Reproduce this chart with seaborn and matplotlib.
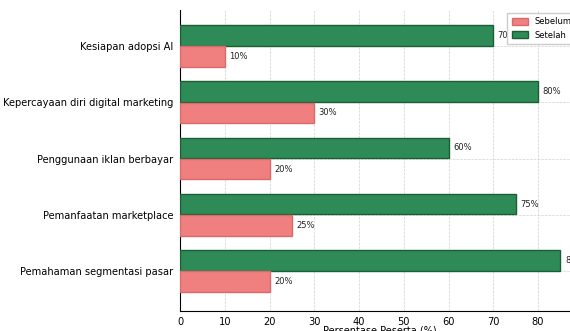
import matplotlib
matplotlib.use("Agg")
import matplotlib.pyplot as plt
import seaborn as sns
import pandas as pd

# data
categories = [
    "Kesiapan adopsi AI",
    "Kepercayaan diri digital marketing",
    "Penggunaan iklan berbayar",
    "Pemanfaatan marketplace",
    "Pemahaman segmentasi pasar",
]
sebelum = [10, 30, 20, 25, 20]
setelah = [70, 80, 60, 75, 85]

df = pd.DataFrame({
    "Aspek": categories * 2,
    "Nilai": setelah + sebelum,
    "Status": ["Setelah"] * len(categories) + ["Sebelum"] * len(categories),
})

sns.set_style("white")
plt.rcParams["font.family"] = ["DejaVu Sans"]
plt.rcParams["text.color"] = "black"
plt.rcParams["xtick.color"] = "black"
plt.rcParams["ytick.color"] = "black"
plt.rcParams["axes.labelcolor"] = "black"

fig = plt.figure(figsize=(5.7, 3.31), dpi=100)
ax = fig.add_axes([0.3158, 0.0604, 0.7008, 0.9094])

palette = {"Setelah": "#2e8b57", "Sebelum": "#f08080"}
sns.barplot(data=df, y="Aspek", x="Nilai", hue="Status", hue_order=["Setelah", "Sebelum"],
            palette=palette, orient="h", width=0.75, gap=0.03, saturation=1, ax=ax, zorder=3)

# edge colours per series
for bar_container, edge in zip(ax.containers, ["#1b5e34", "#d96a6a"]):
    for p in bar_container:
        p.set_edgecolor(edge)
        p.set_linewidth(1.0)
    for p in bar_container:
        w = p.get_width()
        ax.text(w + 1.0, p.get_y() + p.get_height() / 2, f"{int(w)}%",
                va="center", ha="left", fontsize=6, color="#222222", zorder=4)

ax.set_xlim(0, max(setelah) * 1.05)
ax.set_ylim(4.71, -0.64)
ax.set_ylabel("")
ax.set_xlabel("Persentase Peserta (%)", fontsize=7, labelpad=-1)
ax.tick_params(axis="y", labelsize=7.1, length=3, pad=2)
ax.tick_params(axis="x", labelsize=7.1, length=3, pad=1)
ax.grid(True, linestyle="--", linewidth=0.5, color="#d0d0d0", zorder=0)
ax.set_axisbelow(True)
sns.despine(ax=ax, top=True, right=True)
ax.spines["left"].set_color("black")
ax.spines["bottom"].set_color("black")

handles, labels = ax.get_legend_handles_labels()
order = [labels.index("Sebelum"), labels.index("Setelah")]
leg = ax.legend([handles[i] for i in order], [labels[i] for i in order], loc="upper right",
                fontsize=6, frameon=True, framealpha=1, edgecolor="#cccccc", fancybox=False,
                handlelength=2.0, handleheight=0.9, borderpad=0.5, borderaxespad=0.4)
for h, edge in zip(leg.legend_handles, ["#d96a6a", "#1b5e34"]):
    h.set_edgecolor(edge)
    h.set_linewidth(1.0)

fig.savefig("out.png", dpi=100)
